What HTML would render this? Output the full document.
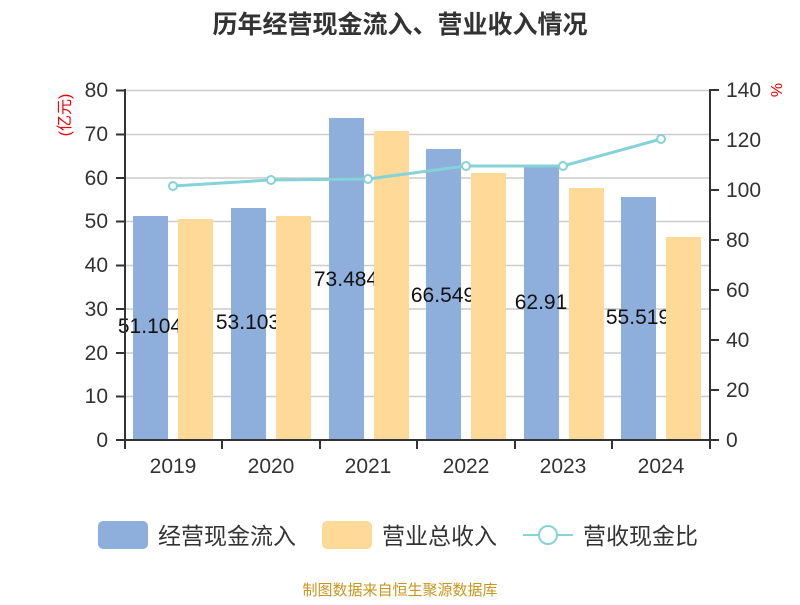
<!DOCTYPE html>
<html><head><meta charset="utf-8"><style>
body{margin:0;background:#fff;}
svg text{font-family:"Liberation Sans","Noto Sans CJK SC",sans-serif;}
</style></head><body>
<svg width="800" height="600" xmlns="http://www.w3.org/2000/svg">
<text x="400" y="33" text-anchor="middle" font-size="25" font-weight="bold" fill="#333">历年经营现金流入、营业收入情况</text>
<g stroke="#ccc" stroke-width="1.5">
<line x1="126" x2="710" y1="90.5" y2="90.5"/><line x1="126" x2="710" y1="134.5" y2="134.5"/>
<line x1="126" x2="710" y1="178" y2="178"/><line x1="126" x2="710" y1="221.5" y2="221.5"/>
<line x1="126" x2="710" y1="265.5" y2="265.5"/><line x1="126" x2="710" y1="309" y2="309"/>
<line x1="126" x2="710" y1="353" y2="353"/><line x1="126" x2="710" y1="396.5" y2="396.5"/>
</g>
<g fill="#8eaedb">
<rect x="133" y="216" width="35" height="224"/><rect x="231" y="208" width="35" height="232"/>
<rect x="329" y="118" width="35" height="322"/><rect x="426" y="149" width="35" height="291"/>
<rect x="524" y="165" width="35" height="275"/><rect x="621" y="197" width="35" height="243"/>
</g>
<g font-size="21" fill="#111" text-anchor="middle">
<text x="150" y="333">51.104</text><text x="248" y="329">53.103</text>
<text x="346" y="286">73.484</text><text x="443" y="302">66.549</text>
<text x="541" y="309">62.91</text><text x="638" y="324">55.519</text>
</g>
<g fill="#fed998">
<rect x="178" y="219" width="35" height="221"/><rect x="276" y="216" width="35" height="224"/>
<rect x="374" y="131" width="35" height="309"/><rect x="471" y="173" width="35" height="267"/>
<rect x="569" y="188" width="35" height="252"/><rect x="666" y="237" width="35" height="203"/>
</g>
<polyline points="173,186 271,180 368,179 466,166 563,166 661,139" fill="none" stroke="#83d3d8" stroke-width="3"/>
<g fill="#fff" stroke="#83d3d8" stroke-width="2">
<circle cx="173" cy="186" r="4"/><circle cx="271" cy="180" r="4"/><circle cx="368" cy="179" r="4"/>
<circle cx="466" cy="166" r="4"/><circle cx="563" cy="166" r="4"/><circle cx="661" cy="139" r="4"/>
</g>
<g stroke="#333" stroke-width="2" fill="none">
<line x1="125" y1="89" x2="125" y2="441"/><line x1="710" y1="89" x2="710" y2="441"/>
<line x1="124" y1="440" x2="711" y2="440"/>
<path d="M116,90.5H125M116,134.5H125M116,178H125M116,221.5H125M116,265.5H125M116,309H125M116,353H125M116,396.5H125M116,440H125"/>
<path d="M710,90H719M710,140H719M710,190H719M710,240H719M710,290H719M710,340H719M710,390H719M710,440H719"/>
<path d="M125,440V449M222,440V449M320,440V449M417,440V449M515,440V449M612,440V449M710,440V449"/>
</g>
<g font-size="21" fill="#333" text-anchor="end">
<text x="108" y="97">80</text><text x="108" y="141">70</text><text x="108" y="185">60</text>
<text x="108" y="228">50</text><text x="108" y="272">40</text><text x="108" y="316">30</text>
<text x="108" y="360">20</text><text x="108" y="403">10</text><text x="108" y="447">0</text>
</g>
<g font-size="21" fill="#333">
<text x="726" y="97">140</text><text x="726" y="147">120</text><text x="726" y="197">100</text>
<text x="726" y="247">80</text><text x="726" y="297">60</text><text x="726" y="347">40</text>
<text x="726" y="397">20</text><text x="726" y="447">0</text>
</g>
<g font-size="21" fill="#333" text-anchor="middle">
<text x="173" y="473">2019</text><text x="271" y="473">2020</text><text x="368" y="473">2021</text>
<text x="466" y="473">2022</text><text x="563" y="473">2023</text><text x="661" y="473">2024</text>
</g>
<text transform="translate(70,115) rotate(-90)" text-anchor="middle" font-size="16" fill="#e00">(亿元)</text>
<text transform="translate(782,90) rotate(-90)" text-anchor="middle" font-size="16" fill="#e00">%</text>
<rect x="98" y="521" width="50" height="28" rx="5" fill="#8eaedb"/>
<text x="158" y="544" font-size="23" fill="#333">经营现金流入</text>
<rect x="322" y="521" width="50" height="28" rx="5" fill="#fed998"/>
<text x="382" y="544" font-size="23" fill="#333">营业总收入</text>
<line x1="523" y1="535" x2="573" y2="535" stroke="#83d3d8" stroke-width="2"/>
<circle cx="548" cy="535" r="9" fill="#fff" stroke="#83d3d8" stroke-width="2"/>
<text x="583" y="544" font-size="23" fill="#333">营收现金比</text>
<text x="400" y="595" text-anchor="middle" font-size="15" fill="#c8961e">制图数据来自恒生聚源数据库</text>
</svg>
</body></html>
